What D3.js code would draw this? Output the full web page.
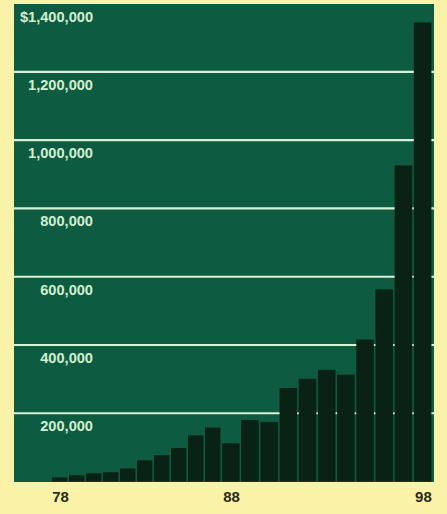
<!DOCTYPE html>
<html>
<head>
<meta charset="utf-8">
<script src="https://cdn.jsdelivr.net/npm/d3@7"></script>
<style>
    body { margin: 0; background: #faf2a6; }
    #barChart svg { display: block; }
</style>
</head>
<body>
<div id="barChart"></div>
<script>

// data
let years = [1978, 1979, 1980, 1981, 1982, 1983, 1984, 1985, 1986, 1987, 1988,
    1989, 1990, 1991, 1992, 1993, 1994, 1995, 1996, 1997, 1998];
let values = [12000, 18000, 24000, 27000, 38000, 62000, 77000, 98000, 135000, 158000, 112000,
    180000, 174000, 274000, 301000, 327000, 313000, 416000, 563000, 926000, 1345000];
let yTicks = [200000, 400000, 600000, 800000, 1000000, 1200000, 1400000];
let xLabels = [1978, 1988, 1998];

class BarChart {

    constructor(parentElement, years, values) {
        this.parentElement = parentElement;
        this.data = years.map((y, i) => ({year: y, value: values[i]}));

        this.initVis()
    }

    initVis() {
        let vis = this;

        let width = 447,
            height = 514;

        // green panel
        let panel = {left: 14, right: 434, top: 4, bottom: 482};

        let svg = d3.select("#" + vis.parentElement).append("svg")
            .attr("width", width)
            .attr("height", height);

        svg.append("rect")
            .attr("x", panel.left)
            .attr("y", panel.top)
            .attr("width", panel.right - panel.left)
            .attr("height", panel.bottom - panel.top)
            .attr("fill", "#0d5b41");

        //y scale
        let yScale = d3.scaleLinear()
            .domain([0, 1400000])
            .range([481.5, 3.7]);

        //x scale (photo is a bit stretched on the right, so two pieces)
        let xScale = d3.scaleLinear()
            .domain([1978, 1988, 1999])
            .range([52, 222, 433]);

        //grid lines, behind the bars
        svg.append("g")
            .selectAll("line")
            .data(yTicks.filter(d => d < 1400000))
            .enter()
            .append("line")
            .attr("x1", panel.left)
            .attr("x2", panel.right)
            .attr("y1", d => yScale(d))
            .attr("y2", d => yScale(d))
            .attr("stroke", "#d6f2d6")
            .attr("stroke-width", 2.2);

        //bars
        let gap = 1.6;
        svg.append("g")
            .selectAll("rect")
            .data(vis.data)
            .enter()
            .append("rect")
            .attr("x", d => xScale(d.year))
            .attr("width", d => xScale(d.year + 1) - xScale(d.year) - gap)
            .attr("y", d => yScale(d.value))
            .attr("height", d => yScale(0) - yScale(d.value))
            .attr("fill", "#092215");

        //y labels, under each grid line
        let fmt = d3.format(",");
        svg.append("g")
            .selectAll("text")
            .data(yTicks)
            .enter()
            .append("text")
            .attr("x", 93)
            .attr("y", d => yScale(d) + 18)
            .attr("text-anchor", "end")
            .attr("font-family", "Liberation Sans, Arial, sans-serif")
            .attr("font-weight", "bold")
            .attr("font-size", "14.6px")
            .attr("fill", "#d4efcf")
            .text(d => (d === 1400000 ? "$" : "") + fmt(d));

        //x labels
        svg.append("g")
            .selectAll("text")
            .data(xLabels)
            .enter()
            .append("text")
            .attr("x", d => (xScale(d) + xScale(d + 1)) / 2)
            .attr("y", 502)
            .attr("text-anchor", "middle")
            .attr("font-family", "Liberation Sans, Arial, sans-serif")
            .attr("font-weight", "bold")
            .attr("font-size", "15px")
            .attr("fill", "#2b2a1c")
            .text(d => String(d).slice(2));
    }
}

new BarChart("barChart", years, values);

</script>
</body>
</html>
